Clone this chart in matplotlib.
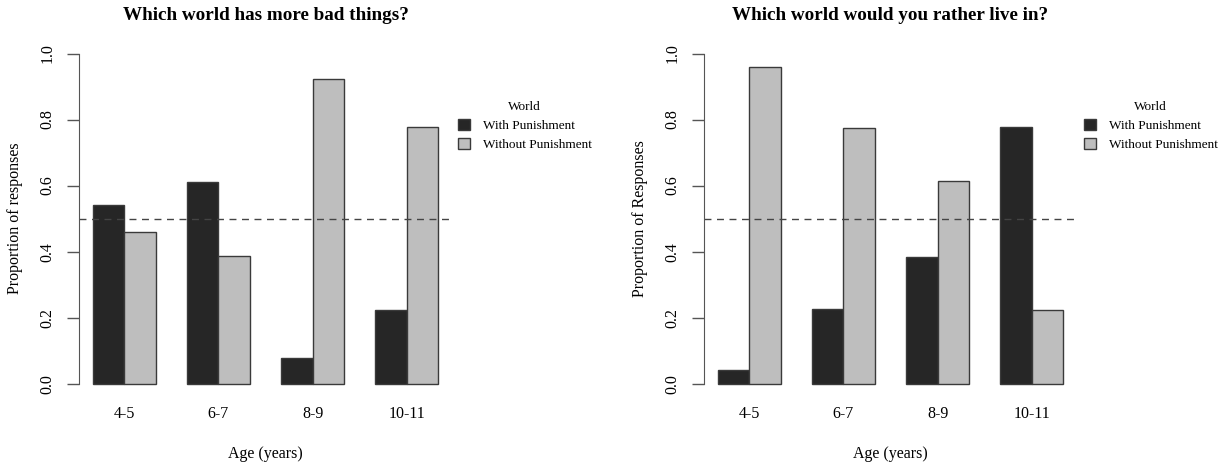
import numpy as np
import matplotlib
matplotlib.use('Agg')
import matplotlib.pyplot as plt
from matplotlib.patches import Patch

plt.rcParams['font.family'] = ['Liberation Serif', 'DejaVu Serif']

ages = ['4-5', '6-7', '8-9', '10-11']
series = ['With Punishment', 'Without Punishment']

# Which world has more bad things?
bad_with = [0.542, 0.612, 0.077, 0.222]
bad_without = [0.458, 0.388, 0.923, 0.778]

# Which world would you rather live in?
live_with = [0.040, 0.226, 0.385, 0.778]
live_without = [0.960, 0.774, 0.615, 0.222]

DARK = '#262626'
LIGHT = '#bebebe'
EDGE = '#3a3a3a'

W, H = 1226, 465


def px_axes(fig, left, top, width, height):
    return fig.add_axes([left / W, 1 - (top + height) / H, width / W, height / H])


def draw_panel(fig, left, with_vals, without_vals, title, ylabel, legend_x):
    ax = px_axes(fig, left, 40.3, 373, 356.6)
    centers = 2 + 3 * np.arange(len(ages))
    ax.bar(centers - 0.5, with_vals, width=1, color=DARK, edgecolor=EDGE, linewidth=1)
    ax.bar(centers + 0.5, without_vals, width=1, color=LIGHT, edgecolor=EDGE, linewidth=1)
    ax.axhline(0.5, color='#444444', linestyle=(0, (5, 4)), linewidth=1)

    ax.set_xlim(0.56, 12.44)
    ax.set_ylim(-0.04, 1.04)
    for s in ['top', 'right', 'bottom']:
        ax.spines[s].set_visible(False)
    ax.spines['left'].set_bounds(0, 1)
    ax.spines['left'].set_color('#555555')
    ax.set_yticks(np.arange(0, 1.01, 0.2))
    ax.set_yticklabels(['%.1f' % v for v in np.arange(0, 1.01, 0.2)],
                       rotation=90, va='center', fontsize=11.5)
    ax.tick_params(axis='y', length=9, width=1, color='#555555', pad=8)
    ax.set_xticks(centers)
    ax.set_xticklabels(ages, fontsize=11.5)
    ax.tick_params(axis='x', length=0, pad=6.5)
    ax.set_ylabel(ylabel, fontsize=11.5, labelpad=12)
    ax.set_xlabel('Age (years)', fontsize=11.5, labelpad=17)

    fig.text((left + 186.5) / W, 1 - 15 / H, title, fontsize=13.8, fontweight='bold',
             ha='center', va='center')

    handles = [Patch(facecolor=DARK, edgecolor=EDGE), Patch(facecolor=LIGHT, edgecolor=EDGE)]
    fig.legend(handles, series, title='World', loc='upper left',
               bbox_to_anchor=(legend_x / W, 1 - 89 / H), frameon=False,
               fontsize=9.5, title_fontsize=9.5, handlelength=0.9, handleheight=0.9,
               handletextpad=1.0, labelspacing=0.45)
    return ax


fig = plt.figure(figsize=(W / 100, H / 100), dpi=100)
draw_panel(fig, 79, bad_with, bad_without, 'Which world has more bad things?',
           'Proportion of responses', 446)
draw_panel(fig, 704, live_with, live_without, 'Which world would you rather live in?',
           'Proportion of Responses', 1072)
fig.savefig('out.png', dpi=100)
